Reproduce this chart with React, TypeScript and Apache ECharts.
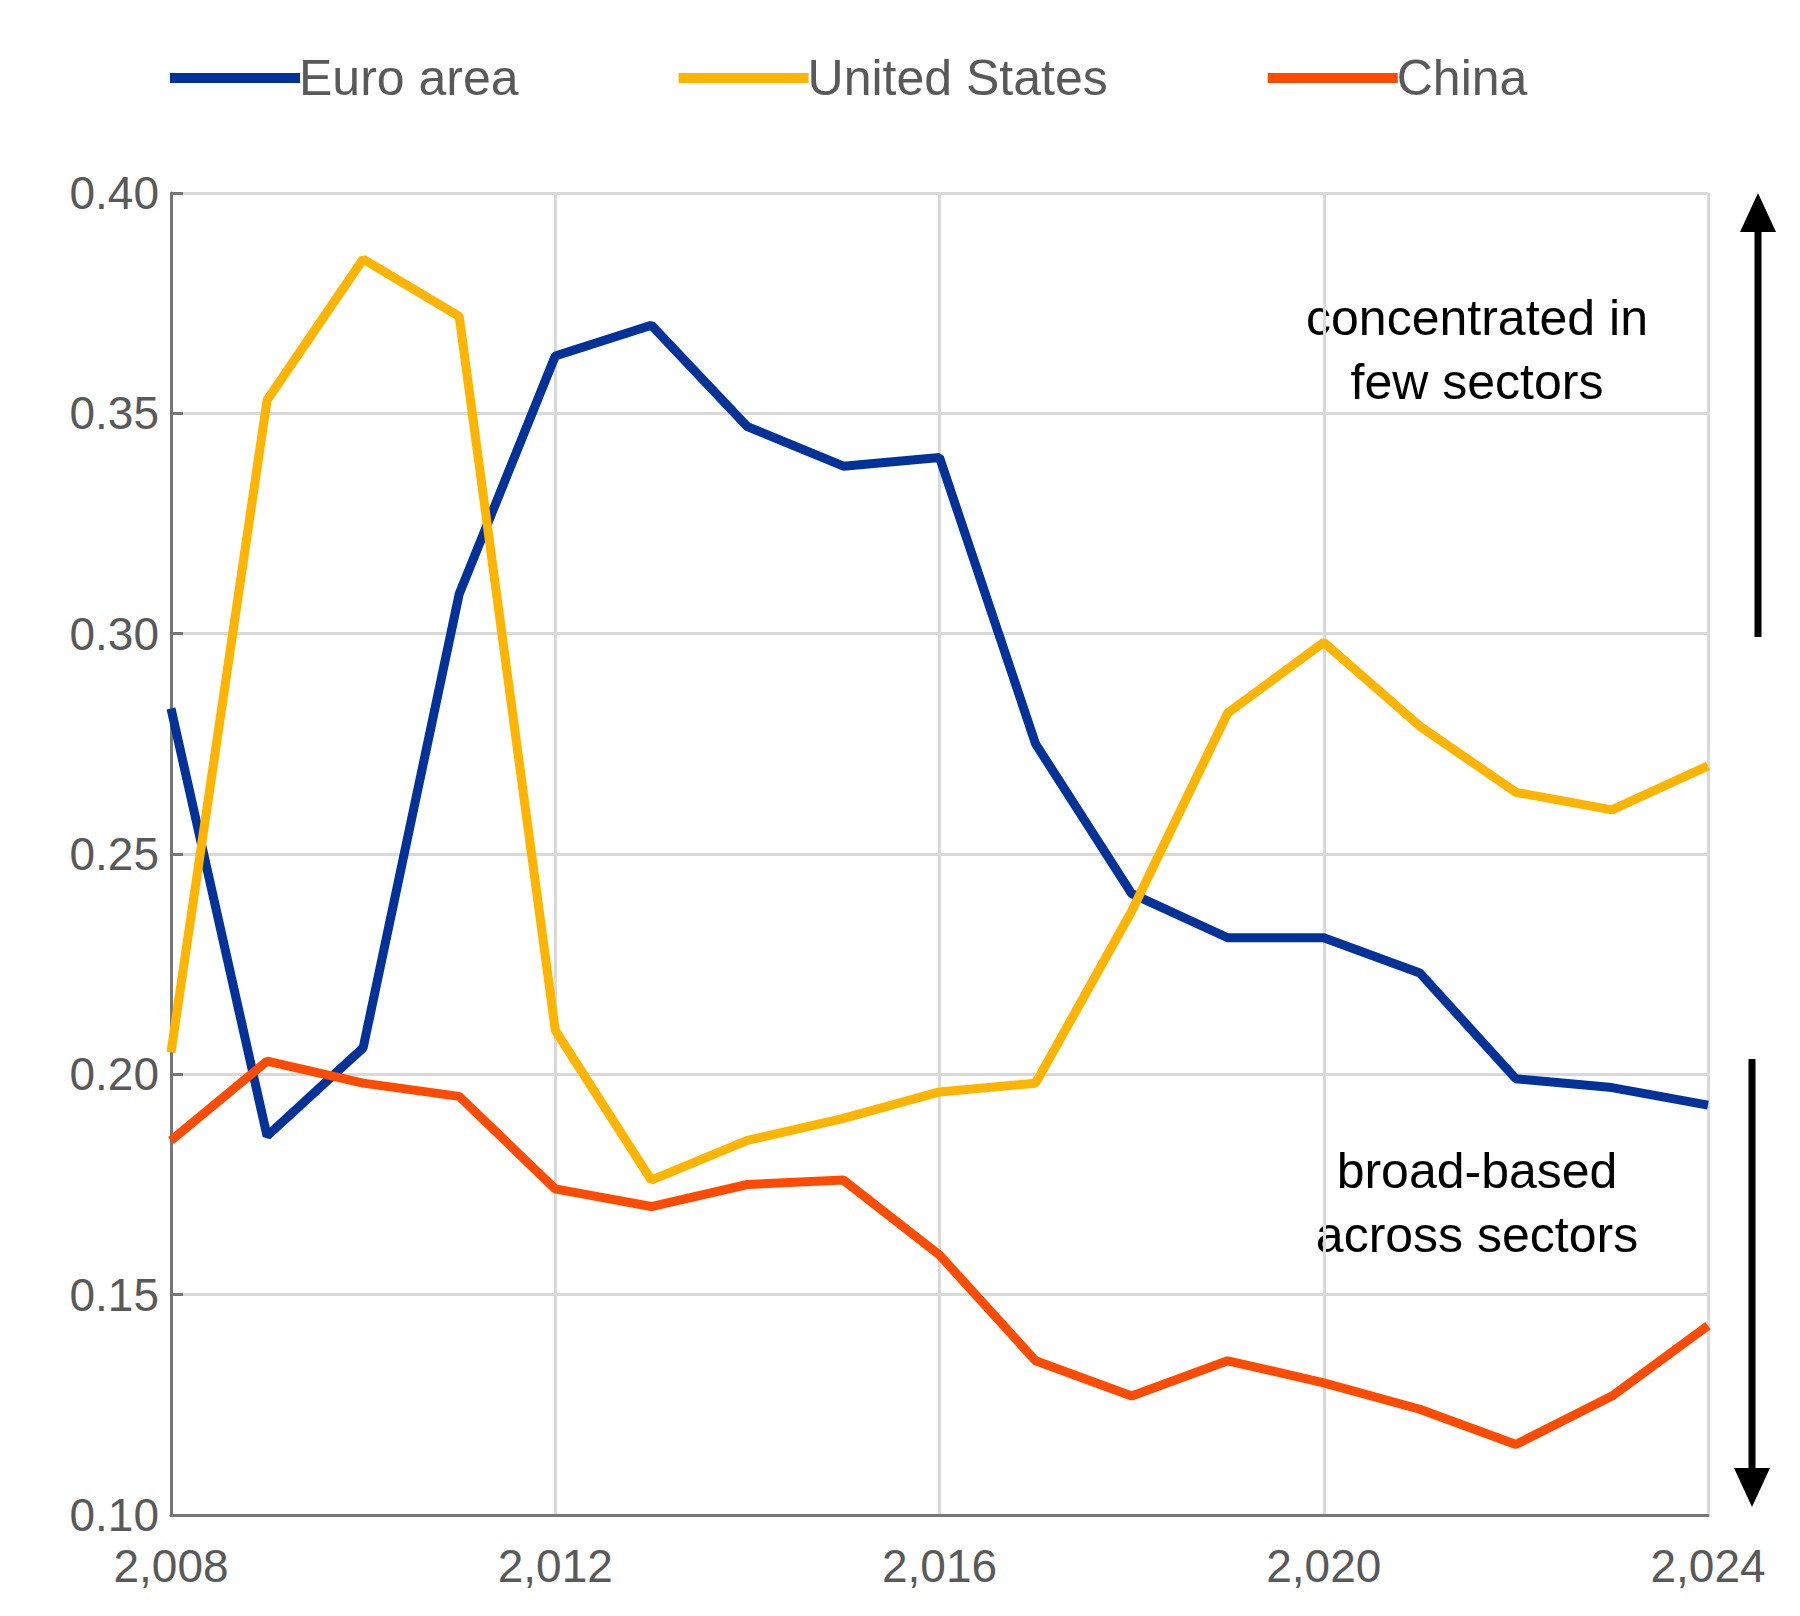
import React, { useEffect, useRef } from 'react';
import * as echarts from 'echarts';

const years = [2008, 2009, 2010, 2011, 2012, 2013, 2014, 2015, 2016, 2017, 2018, 2019, 2020, 2021, 2022, 2023, 2024];
const euroArea = [0.283, 0.186, 0.206, 0.309, 0.363, 0.37, 0.347, 0.338, 0.34, 0.275, 0.241, 0.231, 0.231, 0.223, 0.199, 0.197, 0.193];
const unitedStates = [0.205, 0.353, 0.385, 0.372, 0.21, 0.176, 0.185, 0.19, 0.196, 0.198, 0.237, 0.282, 0.298, 0.279, 0.264, 0.26, 0.27];
const china = [0.185, 0.203, 0.198, 0.195, 0.174, 0.17, 0.175, 0.176, 0.159, 0.135, 0.127, 0.135, 0.13, 0.124, 0.116, 0.127, 0.143];

const font = 'Arial, "Liberation Sans", sans-serif';

const App: React.FC = () => {
  const chartRef = useRef<HTMLDivElement>(null);

  useEffect(() => {
    if (!chartRef.current) return;
    const chart = echarts.init(chartRef.current, undefined, { renderer: 'svg' });

    const makeSeries = (name: string, values: number[], color: string) => ({
      name,
      type: 'line',
      data: years.map((y, i) => [y, values[i]]),
      showSymbol: false,
      symbol: 'none',
      lineStyle: { color, width: 9 },
      itemStyle: { color },
    });

    const option: echarts.EChartsOption = {
      animation: false,
      legend: {
        top: 48,
        left: 165,
        itemGap: 160,
        itemWidth: 130,
        itemHeight: 10,
        icon: 'rect',
        textStyle: { fontSize: 50, color: '#595959', fontFamily: font, padding: [0, 0, 0, -6] },
      },
      grid: { left: 171, right: 92, top: 193, bottom: 101 },
      xAxis: {
        type: 'value',
        min: 2008,
        max: 2024,
        interval: 4,
        axisLine: { lineStyle: { color: '#767676', width: 3 } },
        axisTick: { show: false },
        splitLine: { lineStyle: { color: '#d9d9d9', width: 3 } },
        axisLabel: { fontSize: 46, color: '#595959', fontFamily: font, margin: 28 },
      },
      yAxis: {
        type: 'value',
        min: 0.1,
        max: 0.4,
        interval: 0.05,
        axisLine: { show: true, lineStyle: { color: '#767676', width: 3 } },
        axisTick: { show: true, length: 12, inside: true, lineStyle: { color: '#767676', width: 3 } },
        splitLine: { lineStyle: { color: '#d9d9d9', width: 3 } },
        axisLabel: { fontSize: 46, color: '#595959', fontFamily: font, margin: 12, formatter: (v: number) => v.toFixed(2) },
      },
      graphic: [
        { type: 'line', shape: { x1: 1758, y1: 637, x2: 1758, y2: 225 }, style: { stroke: '#000', lineWidth: 7 } },
        { type: 'polygon', shape: { points: [[1758, 193], [1740, 232], [1776, 232]] }, style: { fill: '#000' } },
        { type: 'line', shape: { x1: 1752, y1: 1059, x2: 1752, y2: 1475 }, style: { stroke: '#000', lineWidth: 7 } },
        { type: 'polygon', shape: { points: [[1752, 1507], [1734, 1468], [1770, 1468]] }, style: { fill: '#000' } },
        {
          type: 'text', x: 1477, y: 350,
          style: { text: 'concentrated in\nfew sectors', fontSize: 50, lineHeight: 64, fill: '#000', fontFamily: font, align: 'center', verticalAlign: 'middle' },
        },
        {
          type: 'text', x: 1477, y: 1203,
          style: { text: 'broad-based\nacross sectors', fontSize: 50, lineHeight: 64, fill: '#000', fontFamily: font, align: 'center', verticalAlign: 'middle' },
        },
      ],
      series: [
        makeSeries('Euro area', euroArea, '#003299'),
        makeSeries('United States', unitedStates, '#FFB400'),
        makeSeries('China', china, '#FF4B00'),
      ] as any,
    };

    chart.setOption(option);
    return () => chart.dispose();
  }, []);

  return <div ref={chartRef} style={{ width: 1800, height: 1616, margin: -8, background: '#fff' }} />;
};

export default App;
